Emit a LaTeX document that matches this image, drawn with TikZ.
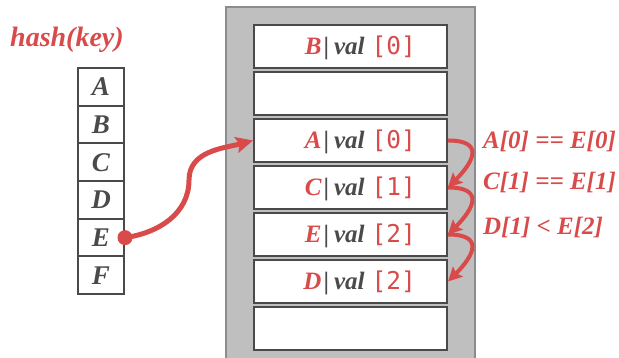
\documentclass[tikz,border=0pt]{standalone}
\usepackage{fontspec}
\setmainfont{Liberation Serif}
\newfontfamily\monofont{DejaVu Sans Mono}
\usetikzlibrary{arrows.meta,positioning}
\definecolor{hred}{HTML}{D94A4A}
\definecolor{hgray}{HTML}{4A4A4A}
\definecolor{boxgray}{HTML}{BFBFBF}
\definecolor{boxedge}{HTML}{8C8C8C}

\begin{document}
\begin{tikzpicture}[x=1pt,y=1pt,
  >={Stealth[length=17pt,width=16pt,inset=3pt]},
  cell/.style={draw=hgray, line width=2pt, fill=white, inner sep=0pt,
    minimum width=46pt, minimum height=37.7pt, text=hgray,
    font=\fontsize{27}{27}\selectfont\bfseries\itshape},
  slot/.style={draw=hgray, line width=2pt, fill=white, inner sep=0pt,
    minimum width=193pt, minimum height=43pt},
  slottext/.style={inner sep=0pt, text=hgray,
    font=\fontsize{25}{25}\selectfont\bfseries\itshape},
  cmptext/.style={inner sep=0pt, text=hred, anchor=base west,
    font=\fontsize{25}{25}\selectfont\bfseries\itshape},
  hop/.style={->, hred, line width=4pt, looseness=2,
    >={Stealth[length=14pt,width=14pt,inset=2.5pt]}}]
\useasboundingbox (0,0) rectangle (619,358);

% --- hash function -------------------------------------------------------
\node[inner sep=0pt, anchor=base west, text=hred,
  font=\fontsize{28}{28}\selectfont\bfseries\itshape] (hash) at (10,311) {hash(key)};

% --- keys ----------------------------------------------------------------
\foreach \l [count=\i] in {A,B,C,D,E,F}{
  \node[cell] (c\l) at (101,290-37.7*\i+18.85) {\l};
}

% --- table ---------------------------------------------------------------
\fill[boxgray] (226,351) rectangle (475,-5);
\draw[boxedge, line width=2pt] (226,-5) -- (226,351) -- (475,351) -- (475,-5);
\foreach \i in {1,...,7}{
  \node[slot] (s\i) at (350.5,311.5-47*\i+47) {};
}
\foreach \i/\k/\v in {1/B/0,3/A/0,4/C/1,5/E/2,6/D/2}{
  \node[slottext, anchor=base east] (t\i) at ([xshift=65.5pt,yshift=-8pt]s\i.center)
    {{\color{hred}\k}\kern2pt{\upshape|}\kern5pt val\kern7pt{\monofont\mdseries\upshape\fontsize{24.5}{24}\selectfont\color{hred}[\v]}};
}

% --- lookup of E ---------------------------------------------------------
\coordinate (bend) at (189,178);
\fill[hred] (cE.east) circle (7.5);
\draw[->, hred, line width=5pt] (cE.east) to[out=8,in=-90] (bend)
  to[out=90,in=195] (s3.west);

% --- comparisons ---------------------------------------------------------
\draw[hop] (s3.east) to[out=0,in=45] (s4.east);
\draw[hop] (s4.east) to[out=0,in=45] (s5.east);
\draw[hop] (s5.east) to[out=0,in=45] (s6.east);
\node[cmptext] (q1) at (483,209) {A[0] == E[0]};
\node[cmptext] (q2) at (483,168) {C[1] == E[1]};
\node[cmptext] (q3) at (483,123) {D[1] < E[2]};
\end{tikzpicture}
\end{document}
